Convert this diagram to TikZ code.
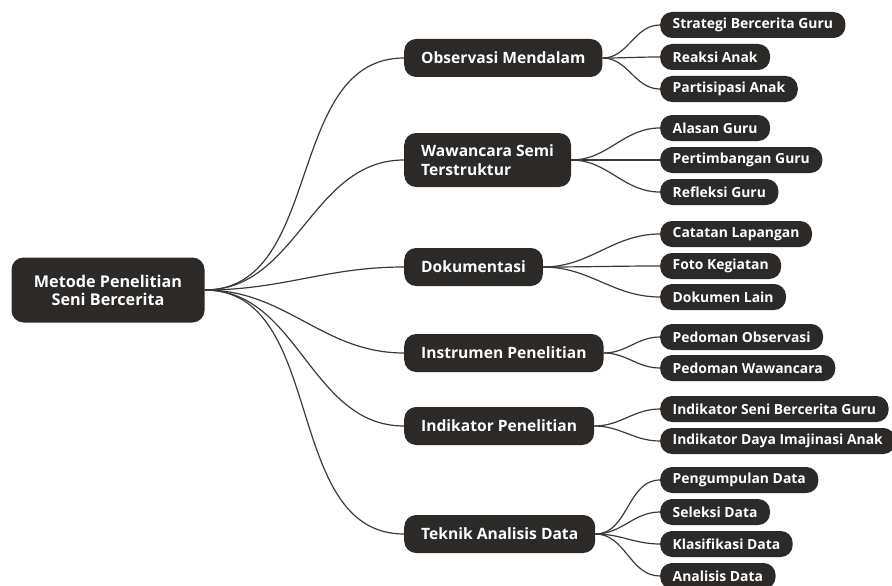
\documentclass[tikz,border=0pt]{standalone}
\usepackage{fontspec}
\setmainfont{Open Sans}
\usetikzlibrary{positioning}

\definecolor{boxfill}{HTML}{2B2A29}
\definecolor{linkgray}{HTML}{3A3A3A}

\begin{document}
\begin{tikzpicture}[x=1pt, y=-1pt,
    rootbox/.style={fill=boxfill, text=white, rounded corners=12pt, font=\bfseries\fontsize{16.2}{18}\selectfont,
        align=center, minimum width=193pt, minimum height=65pt, inner sep=0pt},
    mainbox/.style={fill=boxfill, text=white, rounded corners=12pt, font=\bfseries\fontsize{15.6}{18.5}\selectfont,
        align=left, anchor=west, minimum height=38pt, inner xsep=17pt, inner ysep=0pt},
    leafbox/.style={fill=boxfill, text=white, rounded corners=12pt, font=\bfseries\fontsize{13.9}{15}\selectfont,
        anchor=west, minimum height=26pt, inner xsep=12.5pt, inner ysep=0pt},
    link/.style={draw=linkgray, line width=1.2pt}]
    \useasboundingbox (0,0) rectangle (892,586);

    % root
    \node[rootbox] (metode) at (108,290) {Metode Penelitian\\Seni Bercerita};

    % main branches
    \node[mainbox] (obs) at (404,58) {Observasi Mendalam};
    \node[mainbox, minimum height=54pt] (waw) at (404,160) {Wawancara Semi\\Terstruktur};
    \node[mainbox] (dok) at (404,267) {Dokumentasi};
    \node[mainbox] (ins) at (404,353) {Instrumen Penelitian};
    \node[mainbox] (ind) at (404,426) {Indikator Penelitian};
    \node[mainbox] (tek) at (404,534) {Teknik Analisis Data};

    % leaves
    \node[leafbox] (strategi) at (660,25) {Strategi Bercerita Guru};
    \node[leafbox] (reaksi) at (660,57) {Reaksi Anak};
    \node[leafbox] (partisipasi) at (660,89) {Partisipasi Anak};

    \node[leafbox] (alasan) at (660,128) {Alasan Guru};
    \node[leafbox] (pertimbangan) at (660,160) {Pertimbangan Guru};
    \node[leafbox] (refleksi) at (660,192) {Refleksi Guru};

    \node[leafbox] (catatan) at (660,234) {Catatan Lapangan};
    \node[leafbox] (foto) at (660,266) {Foto Kegiatan};
    \node[leafbox] (dokumen) at (660,297) {Dokumen Lain};

    \node[leafbox] (pedobs) at (660,337) {Pedoman Observasi};
    \node[leafbox] (pedwaw) at (660,368) {Pedoman Wawancara};

    \node[leafbox] (indseni) at (660,409) {Indikator Seni Bercerita Guru};
    \node[leafbox] (inddaya) at (660,441) {Indikator Daya Imajinasi Anak};

    \node[leafbox] (pengumpulan) at (660,480) {Pengumpulan Data};
    \node[leafbox] (seleksi) at (660,512) {Seleksi Data};
    \node[leafbox] (klasifikasi) at (660,544) {Klasifikasi Data};
    \node[leafbox] (analisis) at (660,576) {Analisis Data};

    % connectors
    \foreach \m in {obs,waw,dok,ins,ind,tek}
        \draw[link] (metode.east) to[out=0, in=180] (\m.west);

    \foreach \m/\l in {obs/strategi, obs/reaksi, obs/partisipasi,
                       waw/alasan, waw/pertimbangan, waw/refleksi,
                       dok/catatan, dok/foto, dok/dokumen,
                       ins/pedobs, ins/pedwaw,
                       ind/indseni, ind/inddaya,
                       tek/pengumpulan, tek/seleksi, tek/klasifikasi, tek/analisis}
        \draw[link] (\m.east) to[out=0, in=180] (\l.west);
\end{tikzpicture}
\end{document}
